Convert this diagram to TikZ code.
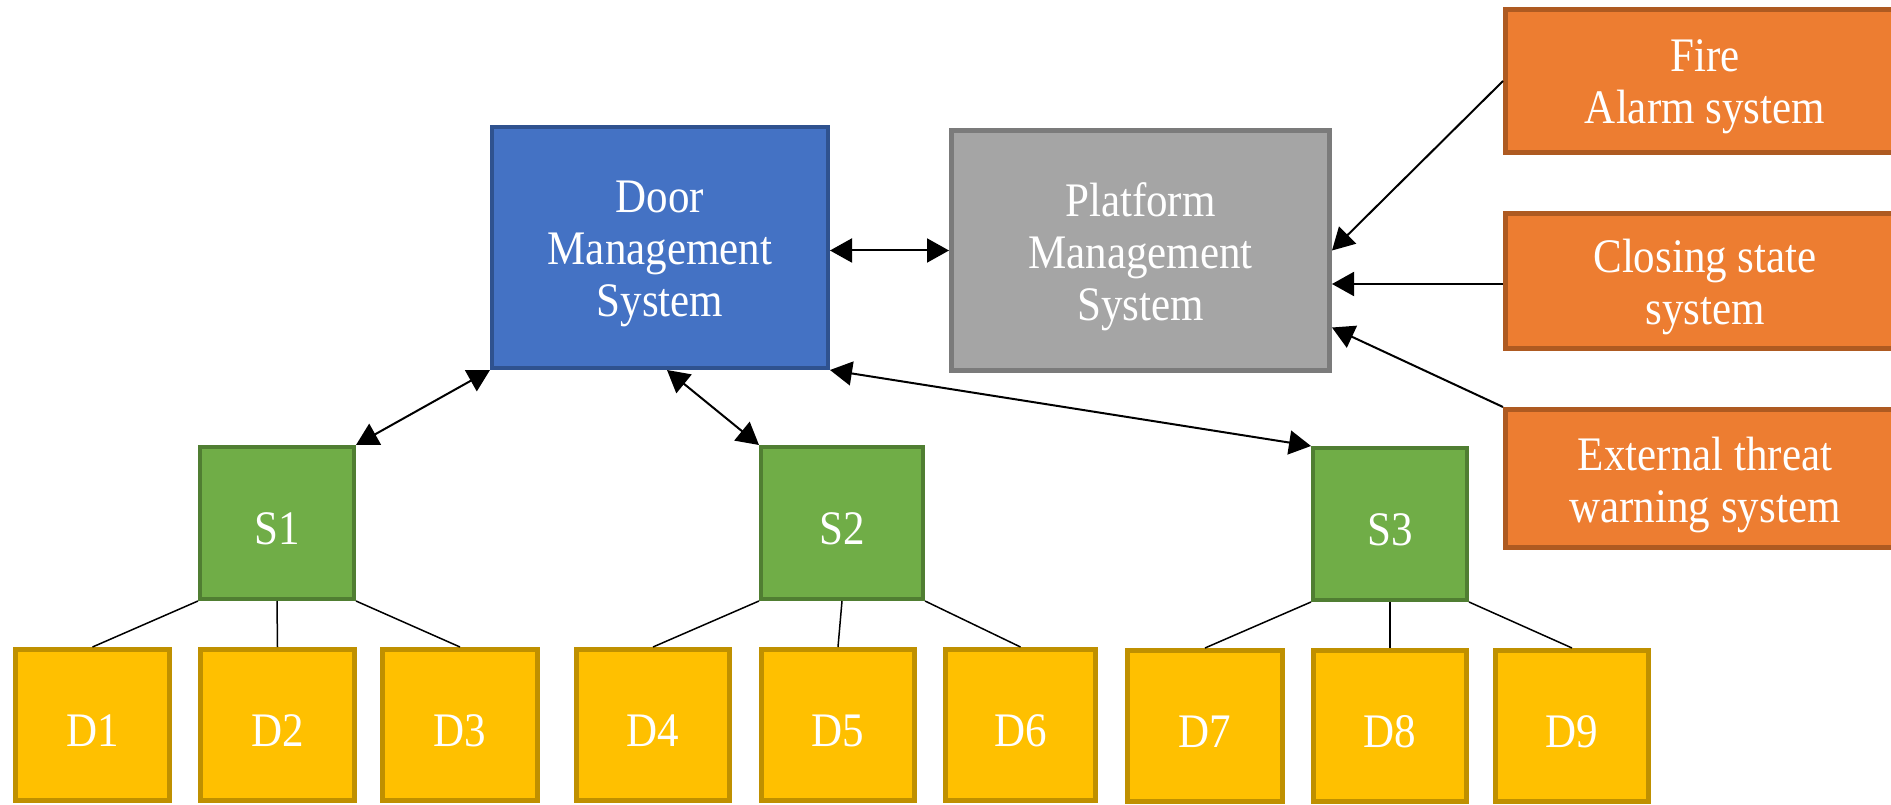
\documentclass[tikz,border=0pt]{standalone}
\usepackage{fontspec}
\usepackage{graphicx}
\setmainfont{Liberation Serif}
\usetikzlibrary{arrows.meta,calc}
\definecolor{bluef}{HTML}{4472C4}\definecolor{blued}{HTML}{2F528F}
\definecolor{grayf}{HTML}{A5A5A5}\definecolor{grayd}{HTML}{7B7B7B}
\definecolor{orangef}{HTML}{ED7D31}\definecolor{oranged}{HTML}{AE5A21}
\definecolor{greenf}{HTML}{70AD47}\definecolor{greend}{HTML}{507E32}
\definecolor{yellowf}{HTML}{FFC000}\definecolor{yellowd}{HTML}{BF9000}
\newcommand{\tl}[1]{\raisebox{-6pt}[\height][\depth]{\scalebox{1}[1.12]{#1}}}
\begin{document}
\begin{tikzpicture}[x=1pt,y=-1pt,
  box/.style={rectangle,inner sep=0pt,text=white,align=center,
    font=\fontsize{43}{52}\selectfont},
  dmsbox/.style={box,fill=bluef,draw=blued,line width=4pt},
  pmsbox/.style={box,fill=grayf,draw=grayd,line width=5pt},
  extbox/.style={box,fill=orangef,draw=oranged,line width=5pt},
  sbox/.style={box,fill=greenf,draw=greend,line width=4pt,minimum height=152pt},
  dbox/.style={box,fill=yellowf,draw=yellowd,line width=5pt,minimum height=151pt},
  link/.style={line width=1.5pt},
  biarrow/.style={line width=2pt,{Triangle[length=22pt,width=24pt]}-{Triangle[length=22pt,width=24pt]}},
  uniarrow/.style={line width=2pt,-{Triangle[length=22pt,width=24pt]}}]
\useasboundingbox (0,0) rectangle (1891,805);
\clip (0,0) rectangle (1891,805);

\node[dmsbox,minimum width=336pt,minimum height=241pt] (dms) at (660,247.5) {\tl{Door}\\\tl{Management}\\\tl{System}};
\node[pmsbox,minimum width=378pt,minimum height=240pt] (pms) at (1140.5,250.5) {\tl{Platform}\\\tl{Management}\\\tl{System}};

\node[extbox,minimum width=399pt,minimum height=143pt] (fire) at (1705,81) {\tl{Fire}\\\tl{Alarm system}};
\node[extbox,minimum width=399pt,minimum height=135pt] (closing) at (1705,281) {\tl{Closing state}\\\tl{system}};
\node[extbox,minimum width=399pt,minimum height=138pt] (ext) at (1705,478.5) {\tl{External threat}\\\tl{warning system}};

\node[sbox,minimum width=154pt] (s1) at (277,523) {\tl{S1}};
\node[sbox,minimum width=162pt] (s2) at (842,523) {\tl{S2}};
\node[sbox,minimum width=154pt] (s3) at (1390,524) {\tl{S3}};

\node[dbox,minimum width=154pt] (d1) at (92.5,725) {\tl{D1}};
\node[dbox,minimum width=154pt] (d2) at (277.5,725) {\tl{D2}};
\node[dbox,minimum width=155pt] (d3) at (460,725) {\tl{D3}};
\node[dbox,minimum width=153pt] (d4) at (653,725) {\tl{D4}};
\node[dbox,minimum width=153pt] (d5) at (838,725) {\tl{D5}};
\node[dbox,minimum width=150pt] (d6) at (1020.5,725) {\tl{D6}};
\node[dbox,minimum width=155pt] (d7) at (1205,726) {\tl{D7}};
\node[dbox,minimum width=153pt] (d8) at (1390,726) {\tl{D8}};
\node[dbox,minimum width=153pt] (d9) at (1572,726) {\tl{D9}};

\draw[link] (s1.south west) -- (d1.north);
\draw[link] (s1.south) -- (d2.north);
\draw[link] (s1.south east) -- (d3.north);
\draw[link] (s2.south west) -- (d4.north);
\draw[link] (s2.south) -- (d5.north);
\draw[link] (s2.south east) -- (d6.north);
\draw[link] (s3.south west) -- (d7.north);
\draw[link] (s3.south) -- (d8.north);
\draw[link] (s3.south east) -- (d9.north);

\draw[biarrow] ([yshift=-3pt]dms.east) -- ([yshift=-3pt]dms.east -| pms.west);
\draw[biarrow] (dms.south west) -- (s1.north east);
\draw[biarrow] ([xshift=7pt]dms.south) -- (s2.north west);
\draw[biarrow] (dms.south east) -- (s3.north west);

\draw[uniarrow] (fire.west) -- (pms.east);
\draw[uniarrow] ([yshift=-3pt]closing.west) -- ([yshift=-3pt]closing.west -| pms.east);
\draw[uniarrow] (ext.north west) -- ([yshift=-77pt]pms.east);
\end{tikzpicture}
\end{document}
